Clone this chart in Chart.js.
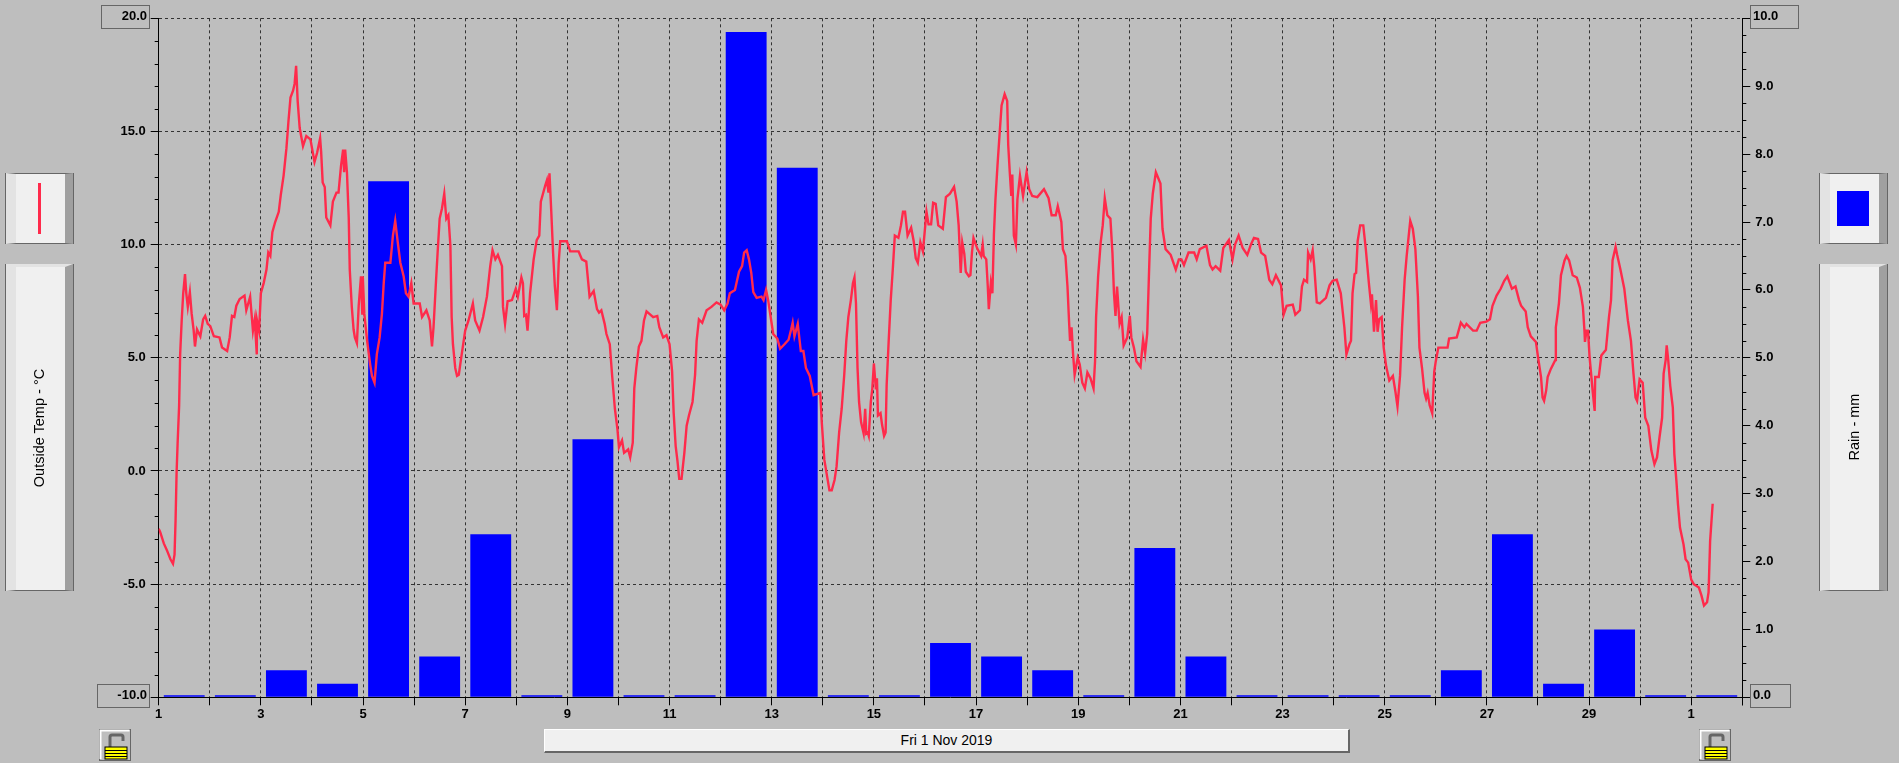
<!DOCTYPE html>
<html>
<head>
<meta charset="utf-8">
<title>Outside Temp and Rain</title>
<script src="https://cdn.jsdelivr.net/npm/chart.js@4/dist/chart.umd.min.js"></script>
<style>
    html, body { margin: 0; padding: 0; background: #bebebe; overflow: hidden; }
    #stage { position: relative; width: 1899px; height: 763px; }
    #chart { position: absolute; left: 0; top: 0; }
    .box, .panel, .bar, .lock { position: absolute; box-sizing: border-box; }
    .box {
        border: 1px solid #666; height: 24px; line-height: 20px;
        font: bold 13px "Liberation Sans", sans-serif; color: #000;
    }
    .panel {
        border: 1px solid #666; background: #f0f0f0; width: 67px;
        border-left: 10px solid #e3e3e3; border-right: 8px solid #a0a0a0;
        outline: 0; box-shadow: -1px 0 0 #666, 1px 0 0 #666;
    }
    .tall { top: 264px; height: 327px; border-top: 3px solid #e3e3e3; border-bottom: 1px solid #666; }
    .short { top: 173px; height: 71px; }
    .side-text {
        position: absolute; white-space: nowrap; color: #000;
        font: 14.5px "Liberation Sans", sans-serif;
        transform: translate(-50%, -50%) rotate(-90deg);
    }
    .bar {
        left: 544px; top: 729px; width: 806px; height: 24px; background: #f0f0f0;
        border-top: 1px solid #fff; border-left: 1px solid #fff;
        border-right: 2px solid #666; border-bottom: 2px solid #666;
        text-align: center; line-height: 21px; color: #000;
        font: 14px/21px "Liberation Sans", sans-serif;
    }
</style>
</head>
<body>
<div id="stage">
    <canvas id="chart" width="1899" height="763"></canvas>

    <div class="box" style="left:101px;top:5px;width:49px;text-align:right;padding-right:2px;line-height:20px;">20.0</div>
    <div class="box" style="left:97px;top:684px;width:53px;text-align:right;padding-right:2px;line-height:20px;">-10.0</div>
    <div class="box" style="left:1750px;top:5px;width:49px;padding-left:2px;line-height:20px;">10.0</div>
    <div class="box" style="left:1750px;top:684px;width:41px;padding-left:2px;line-height:20px;">0.0</div>

    <div class="panel short" style="left:6px;"></div>
    <div style="position:absolute;left:38px;top:183px;width:3px;height:51px;background:#ff2a4b;"></div>
    <div class="panel tall" style="left:6px;"></div>
    <div class="side-text" style="left:39px;top:428px;">Outside Temp - °C</div>

    <div class="panel short" style="left:1820px;"></div>
    <div style="position:absolute;left:1837px;top:191px;width:32px;height:35px;background:#0000ff;"></div>
    <div class="panel tall" style="left:1820px;"></div>
    <div class="side-text" style="left:1854px;top:427px;">Rain - mm</div>

    <div class="bar">Fri 1 Nov 2019</div>

    <svg class="lock" style="left:99px;top:729px;" width="32" height="32"><use href="#lockIcon"/></svg>
    <svg class="lock" style="left:1699px;top:729px;" width="32" height="32">
        <defs>
            <g id="lockIcon">
                <rect x="0.5" y="0.5" width="31" height="31" fill="#bebebe" stroke="#666"/>
                <path d="M1.5 30V1.5H30.5" fill="none" stroke="#fff" stroke-width="2"/>
                <path d="M11 18V8Q11 6 13 6H22Q24 6 24 8V12" fill="none" stroke="#666" stroke-width="3"/>
                <rect x="6" y="18" width="22" height="12" fill="#ffff00" stroke="#000"/>
                <path d="M6 21.5H28M6 24.5H28M6 27.5H28" stroke="#000"/>
            </g>
        </defs>
        <use href="#lockIcon"/>
    </svg>
</div>

<script>
// ========================================
// DATA
// ========================================

// Labels under the day ticks, the axis runs 1 Nov to 1 Dec
const dayLabels = ['1','','3','','5','','7','','9','','11','','13','','15','','17','','19','','21','','23','','25','','27','','29','','1',''];

// Rain per day in mm, 1 Nov to 1 Dec
const rainDays = [1,2,3,4,5,6,7,8,9,10,11,12,13,14,15,16,17,18,19,20,21,22,23,24,25,26,27,28,29,30,31];
const rainValues = [0,0,0.4,0.2,7.6,0.6,2.4,0,3.8,0,0,9.8,7.8,0,0,0.8,0.6,0.4,0,2.2,0.6,0,0,0,0,0.4,2.4,0.2,1.0,0,0];

const tempTicks = [-10,-5,0,5,10,15,20];
const rainTicks = [0,1,2,3,4,5,6,7,8,9,10];

// Outside temp as [days since 1 Nov 00:00, degC]
const tempPoints = [
    [0,-2.55],[0.03,-2.7],[0.1,-3.2],[0.16,-3.5],[0.23,-3.9],[0.28,-4.1],[0.31,-3.7],[0.33,-2.2],[0.35,-0.1],[0.37,1.2],
    [0.4,2.9],[0.42,5.15],[0.45,6.65],[0.48,7.85],[0.515,8.7],[0.54,7.85],[0.57,7.25],[0.61,7.9],[0.645,6.95],[0.685,6.2],
    [0.71,5.5],[0.75,6.25],[0.815,5.95],[0.87,6.7],[0.91,6.85],[0.96,6.5],[1.01,6.4],[1.08,5.95],[1.19,5.9],[1.24,5.45],
    [1.34,5.3],[1.39,5.9],[1.435,6.85],[1.48,6.8],[1.52,7.3],[1.585,7.6],[1.68,7.75],[1.715,7.1],[1.79,7.7],[1.845,6.2],
    [1.88,6.7],[1.92,5.15],[1.925,6.65],[1.965,6.2],[2.0,7.85],[2.055,8.3],[2.11,8.9],[2.145,9.65],[2.185,9.5],[2.225,10.55],
    [2.28,11.0],[2.35,11.45],[2.39,12.2],[2.445,13.05],[2.5,14.25],[2.54,15.45],[2.58,16.5],[2.63,16.8],[2.66,17.1],[2.69,17.9],
    [2.72,16.35],[2.76,15.15],[2.825,14.35],[2.89,14.8],[2.97,14.65],[3.05,13.65],[3.1,14.05],[3.16,14.7],[3.18,14.1],[3.21,12.75],
    [3.25,12.55],[3.28,11.2],[3.36,10.85],[3.41,11.9],[3.48,12.3],[3.52,12.3],[3.57,13.5],[3.61,14.2],[3.63,13.2],[3.65,14.2],
    [3.685,13.2],[3.72,11.2],[3.74,8.9],[3.78,7.25],[3.815,6.25],[3.84,5.9],[3.88,5.65],[3.915,7.3],[3.96,8.6],[3.985,6.95],
    [3.995,8.6],[4.025,6.95],[4.08,5.75],[4.14,4.7],[4.175,4.2],[4.225,3.9],[4.27,5.15],[4.325,5.9],[4.37,6.95],[4.405,8.3],
    [4.435,9.2],[4.535,9.2],[4.585,10.4],[4.63,11.05],[4.68,10.1],[4.73,9.2],[4.795,8.6],[4.84,7.85],[4.89,7.7],[4.945,8.3],
    [4.99,7.4],[5.055,7.4],[5.11,7.4],[5.155,6.8],[5.24,7.1],[5.305,6.65],[5.35,5.5],[5.38,6.35],[5.43,8.45],[5.46,9.65],
    [5.5,11.15],[5.545,11.6],[5.59,12.25],[5.63,11.15],[5.67,11.3],[5.71,9.95],[5.735,6.8],[5.76,5.6],[5.805,4.55],[5.84,4.2],
    [5.875,4.25],[5.915,4.9],[6.0,6.2],[6.065,6.65],[6.15,7.4],[6.195,6.65],[6.28,6.2],[6.35,6.8],[6.425,7.7],[6.49,9.05],
    [6.535,9.75],[6.59,9.35],[6.64,9.55],[6.72,9.05],[6.74,7.25],[6.78,6.5],[6.83,7.5],[6.915,7.55],[6.99,8.05],[7.03,7.7],
    [7.1,8.55],[7.13,8.3],[7.155,6.85],[7.19,6.9],[7.22,6.2],[7.27,7.85],[7.34,9.35],[7.4,10.2],[7.45,10.4],[7.48,11.9],
    [7.565,12.6],[7.6,12.85],[7.63,12.3],[7.65,13.15],[7.685,11.45],[7.72,9.65],[7.755,8.15],[7.795,7.1],[7.83,9.2],[7.86,10.15],
    [7.99,10.15],[8.055,9.7],[8.22,9.7],[8.285,9.35],[8.37,9.25],[8.435,7.7],[8.515,7.95],[8.58,7.15],[8.62,7.0],[8.665,7.1],
    [8.73,6.5],[8.765,6.05],[8.83,5.6],[8.875,4.25],[8.93,2.75],[8.98,1.85],[9.01,1.05],[9.07,1.35],[9.11,0.8],[9.19,0.95],
    [9.23,0.6],[9.28,1.25],[9.31,3.65],[9.35,4.55],[9.4,5.5],[9.45,5.75],[9.5,6.65],[9.55,7.05],[9.68,6.8],[9.76,6.85],
    [9.8,6.35],[9.875,5.9],[9.94,6.0],[10.0,5.6],[10.05,4.4],[10.08,2.6],[10.12,1.1],[10.155,0.45],[10.19,-0.35],[10.235,-0.35],
    [10.29,0.8],[10.335,2.0],[10.38,2.45],[10.45,3.05],[10.5,4.25],[10.53,5.75],[10.575,6.7],[10.64,6.55],[10.725,7.1],[10.82,7.25],
    [10.92,7.45],[11.0,7.35],[11.07,7.1],[11.135,7.4],[11.18,7.85],[11.28,8.0],[11.36,8.8],[11.42,9.05],[11.46,9.65],[11.51,9.75],
    [11.555,9.35],[11.6,8.75],[11.64,7.9],[11.705,7.65],[11.8,7.7],[11.84,7.55],[11.89,8.0],[11.93,7.55],[11.99,6.65],[12.03,6.05],
    [12.11,5.85],[12.165,5.4],[12.25,5.6],[12.33,5.8],[12.38,6.25],[12.41,6.55],[12.445,5.95],[12.51,6.5],[12.57,5.3],[12.62,5.3],
    [12.67,4.55],[12.745,4.2],[12.82,3.35],[12.95,3.45],[12.98,2.15],[13.03,0.5],[13.085,-0.25],[13.13,-0.85],[13.175,-0.85],[13.23,-0.4],
    [13.27,0.2],[13.32,1.7],[13.37,2.75],[13.42,4.25],[13.46,5.75],[13.5,6.8],[13.55,7.55],[13.59,8.3],[13.62,8.55],[13.65,7.4],
    [13.68,4.55],[13.71,3.05],[13.75,2.15],[13.8,1.65],[13.83,2.75],[13.85,1.65],[13.88,1.7],[13.9,1.55],[13.94,3.05],[13.97,3.65],
    [14.0,4.75],[14.04,3.6],[14.06,4.1],[14.08,2.45],[14.13,2.55],[14.16,2.05],[14.2,1.55],[14.23,1.7],[14.25,3.8],[14.29,5.75],
    [14.33,7.55],[14.37,8.9],[14.41,10.4],[14.48,10.3],[14.53,10.85],[14.57,11.45],[14.61,11.45],[14.66,10.4],[14.73,10.75],[14.78,10.15],
    [14.82,9.4],[14.86,9.2],[14.91,10.1],[14.96,9.7],[15.0,10.7],[15.03,11.45],[15.07,10.9],[15.12,10.9],[15.16,11.85],[15.21,11.8],
    [15.26,10.85],[15.35,10.7],[15.41,12.1],[15.49,12.25],[15.57,12.55],[15.62,11.9],[15.66,10.85],[15.7,8.75],[15.73,10.1],[15.77,9.6],
    [15.8,8.8],[15.86,8.6],[15.89,8.65],[15.92,9.65],[15.95,10.3],[16.02,9.85],[16.1,9.5],[16.13,10.0],[16.15,9.5],[16.2,9.35],
    [16.23,8.15],[16.25,7.15],[16.29,8.3],[16.32,7.85],[16.35,10.45],[16.38,12.0],[16.42,13.5],[16.46,14.85],[16.5,16.15],[16.56,16.65],
    [16.61,16.35],[16.63,14.4],[16.66,13.2],[16.69,12.15],[16.71,13.1],[16.74,10.4],[16.78,10.0],[16.81,12.0],[16.86,13.05],[16.92,12.15],
    [16.99,13.2],[17.04,12.45],[17.1,12.15],[17.2,12.1],[17.33,12.45],[17.42,12.05],[17.48,11.3],[17.56,11.3],[17.6,11.7],[17.67,11.0],
    [17.7,9.8],[17.75,9.5],[17.79,8.15],[17.82,6.65],[17.84,5.75],[17.87,6.35],[17.9,5.15],[17.93,4.25],[17.99,5.0],[18.03,4.7],
    [18.08,3.9],[18.13,3.65],[18.18,4.35],[18.24,4.1],[18.3,3.65],[18.33,4.85],[18.35,6.8],[18.39,8.6],[18.44,10.1],[18.48,10.85],
    [18.52,12.05],[18.57,11.3],[18.63,11.15],[18.67,9.65],[18.7,7.85],[18.73,6.85],[18.76,8.15],[18.81,6.5],[18.85,6.8],[18.89,5.55],
    [18.96,5.9],[19.01,6.85],[19.04,5.9],[19.09,5.45],[19.14,4.85],[19.22,4.6],[19.27,5.8],[19.31,5.2],[19.35,6.05],[19.39,9.05],
    [19.42,11.15],[19.46,12.25],[19.52,13.2],[19.61,12.7],[19.65,10.7],[19.71,9.8],[19.81,9.55],[19.91,8.9],[19.97,9.35],[20.02,9.35],
    [20.07,9.1],[20.16,9.65],[20.27,9.65],[20.32,9.35],[20.38,9.8],[20.51,9.95],[20.58,9.1],[20.63,8.9],[20.69,9.05],[20.78,8.85],
    [20.84,9.85],[20.95,10.2],[21.02,9.35],[21.07,10.0],[21.14,10.4],[21.22,9.85],[21.31,9.55],[21.38,10.0],[21.44,10.3],[21.52,10.25],
    [21.58,9.65],[21.66,9.5],[21.74,8.45],[21.8,8.25],[21.87,8.65],[21.97,8.2],[22.02,6.9],[22.08,7.3],[22.2,7.35],[22.25,6.9],
    [22.34,7.1],[22.38,8.15],[22.42,8.45],[22.48,8.35],[22.5,9.65],[22.55,9.35],[22.59,9.75],[22.62,9.05],[22.67,7.45],[22.73,7.4],
    [22.85,7.65],[22.92,8.2],[22.98,8.4],[23.06,8.45],[23.14,7.85],[23.21,6.35],[23.25,5.15],[23.31,5.6],[23.34,5.75],[23.37,7.85],
    [23.41,8.7],[23.44,8.75],[23.47,10.15],[23.52,10.85],[23.58,10.85],[23.63,9.8],[23.69,8.3],[23.73,7.4],[23.75,7.8],[23.79,6.15],
    [23.83,7.55],[23.86,6.15],[23.89,6.7],[23.94,6.8],[23.98,5.45],[24.03,4.6],[24.09,4.0],[24.16,4.2],[24.21,3.5],[24.25,2.85],
    [24.3,4.2],[24.34,6.35],[24.39,8.45],[24.43,9.5],[24.47,10.4],[24.5,11.05],[24.55,10.7],[24.6,9.8],[24.65,7.7],[24.68,5.45],
    [24.73,4.55],[24.78,3.45],[24.81,3.2],[24.84,3.45],[24.88,2.9],[24.93,2.55],[24.97,4.4],[25.0,4.85],[25.05,5.45],[25.23,5.45],
    [25.26,5.85],[25.41,5.9],[25.49,6.55],[25.56,6.35],[25.6,6.5],[25.73,6.2],[25.8,6.2],[25.87,6.55],[25.99,6.6],[26.06,6.7],
    [26.11,7.3],[26.19,7.75],[26.27,8.05],[26.34,8.4],[26.4,8.6],[26.49,8.05],[26.56,8.15],[26.63,7.55],[26.67,7.3],[26.76,7.05],
    [26.8,6.35],[26.86,5.95],[26.96,5.7],[27.0,5.05],[27.06,4.15],[27.09,3.25],[27.12,3.1],[27.16,3.55],[27.19,4.15],[27.25,4.5],
    [27.34,4.9],[27.35,6.35],[27.41,7.4],[27.45,8.65],[27.52,9.3],[27.56,9.5],[27.61,9.3],[27.68,8.65],[27.76,8.55],[27.82,8.1],
    [27.88,7.25],[27.91,6.2],[27.92,5.7],[27.95,6.2],[27.98,6.2],[28.01,5.05],[28.04,4.3],[28.07,3.55],[28.11,2.65],[28.12,4.15],
    [28.19,4.15],[28.24,5.1],[28.33,5.35],[28.39,6.8],[28.43,7.55],[28.46,9.3],[28.52,9.9],[28.55,9.55],[28.61,8.95],[28.69,8.05],
    [28.76,6.65],[28.82,5.75],[28.87,4.3],[28.91,3.25],[28.94,3.1],[28.99,4.05],[29.05,3.9],[29.1,2.35],[29.16,2.0],[29.22,0.9],
    [29.28,0.3],[29.33,0.6],[29.38,1.5],[29.43,2.35],[29.46,4.3],[29.5,4.9],[29.52,5.55],[29.55,4.9],[29.59,3.75],[29.64,2.8],
    [29.67,0.75],[29.71,-0.45],[29.74,-1.45],[29.78,-2.5],[29.85,-3.25],[29.89,-3.9],[29.94,-4.05],[30.0,-4.8],[30.05,-5.0],[30.15,-5.15],
    [30.2,-5.5],[30.25,-5.95],[30.31,-5.8],[30.34,-5.35],[30.37,-3.1],[30.42,-1.45]
];

// ========================================
// CHART
// ========================================

const AXIS_FONT = { family: '"Liberation Sans", sans-serif', size: 13, weight: 'bold' };
const GRID_COLOR = '#333333';

// Short unlabelled ticks between the main ones on both value axes
const minorTicks = {
    id: 'minorTicks',
    afterDraw(chart) {
        const { ctx, chartArea, scales } = chart;
        ctx.save();
        ctx.strokeStyle = '#000';
        ctx.lineWidth = 1;
        for (let v = -10; v <= 20; v += 1) {
            if (v % 5 === 0) continue;
            const y = Math.round(scales.y.getPixelForValue(v)) + 0.5;
            ctx.beginPath();
            ctx.moveTo(chartArea.left - 4, y);
            ctx.lineTo(chartArea.left, y);
            ctx.stroke();
        }
        for (let v = 0; v <= 10; v += 0.25) {
            if (v % 1 === 0) continue;
            const y = Math.round(scales.y1.getPixelForValue(v)) + 0.5;
            ctx.beginPath();
            ctx.moveTo(chartArea.right, y);
            ctx.lineTo(chartArea.right + 4, y);
            ctx.stroke();
        }
        ctx.restore();
    }
};

new Chart(document.getElementById('chart'), {
    data: {
        datasets: [
            {
                type: 'line',
                label: 'Outside Temp - °C',
                data: tempPoints.map(p => ({ x: p[0], y: p[1] })),
                yAxisID: 'y',
                borderColor: '#ff2a4b',
                borderWidth: 2.4,
                pointRadius: 0,
                tension: 0,
                order: 1
            },
            {
                type: 'bar',
                label: 'Rain - mm',
                data: rainDays.map((d, i) => ({ x: d - 0.5, y: rainValues[i] })),
                yAxisID: 'y1',
                backgroundColor: '#0000ff',
                barPercentage: 0.8,
                categoryPercentage: 1,
                minBarLength: 2,
                order: 2
            }
        ]
    },
    plugins: [minorTicks],
    options: {
        responsive: false,
        animation: false,
        layout: { padding: { top: 18.3, left: 0, right: 0, bottom: 0 } },
        plugins: { legend: { display: false }, tooltip: { enabled: false } },
        scales: {
            x: {
                type: 'linear',
                offset: false,
                min: 0,
                max: 31,
                afterFit(scale) { scale.height = 65.7; },
                afterBuildTicks(scale) {
                    scale.ticks = dayLabels.map((_, i) => ({ value: i })).concat({ value: 31 });
                },
                ticks: {
                    autoSkip: false,
                    maxRotation: 0,
                    padding: 1,
                    color: '#000',
                    font: AXIS_FONT,
                    callback: (v) => dayLabels[v] || ''
                },
                grid: { offset: false, color: GRID_COLOR, tickColor: '#000', tickLength: 8 },
                border: { color: '#000', dash: [3, 3], z: 1 }
            },
            y: {
                position: 'left',
                min: -10,
                max: 20,
                afterFit(scale) { scale.width = 158.7; },
                afterBuildTicks(scale) {
                    scale.ticks = tempTicks.map(v => ({ value: v }));
                },
                ticks: {
                    padding: 5,
                    color: '#000',
                    font: AXIS_FONT,
                    // the two end values sit in their boxes
                    callback: (v) => (v === 20 || v === -10) ? '' : v.toFixed(1)
                },
                grid: { color: GRID_COLOR, tickColor: '#000', tickLength: 8 },
                border: { color: '#000', dash: [3, 3] }
            },
            y1: {
                position: 'right',
                min: 0,
                max: 10,
                afterFit(scale) { scale.width = 156.7; },
                afterBuildTicks(scale) {
                    scale.ticks = rainTicks.map(v => ({ value: v }));
                },
                ticks: {
                    padding: 5,
                    color: '#000',
                    font: AXIS_FONT,
                    callback: (v) => (v === 10 || v === 0) ? '' : v.toFixed(1)
                },
                grid: { drawOnChartArea: false, tickColor: '#000', tickLength: 8 },
                border: { color: '#000' }
            }
        }
    }
});
</script>
</body>
</html>
